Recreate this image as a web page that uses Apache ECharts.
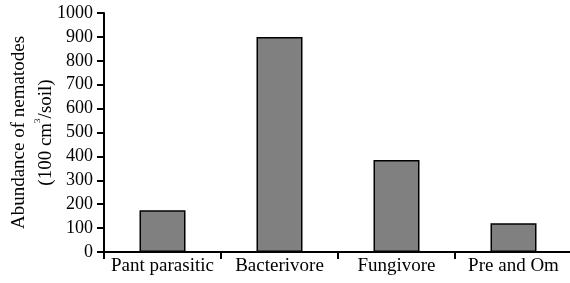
<!DOCTYPE html>
<html><head><meta charset="utf-8">
<script src="https://cdn.jsdelivr.net/npm/echarts@6/dist/echarts.min.js"></script>
<style>html,body{margin:0;padding:0;background:#fff}#c{width:570px;height:283px}</style>
</head><body><div id="c"></div>
<script>
const categories = ["Pant parasitic", "Bacterivore", "Fungivore", "Pre and Om"];
const values = [175, 900, 385, 120];
const yTicks = [0, 100, 200, 300, 400, 500, 600, 700, 800, 900, 1000];

const chart = echarts.init(document.getElementById('c'));
const font = '"Liberation Serif", "Times New Roman", serif';
chart.setOption({
  animation: false,
  grid: { left: 104, top: 13, bottom: 31, right: -2, containLabel: false, outerBoundsMode: 'none' },
  xAxis: {
    type: 'category', data: categories,
    axisLine: { lineStyle: { color: '#000', width: 2 } },
    axisTick: { show: true, length: 7, lineStyle: { color: '#000', width: 2 } },
    axisLabel: { color: '#000', fontFamily: font, fontSize: 19, margin: 5, interval: 0, hideOverlap: false }
  },
  yAxis: {
    type: 'value', min: yTicks[0], max: yTicks[yTicks.length - 1], interval: 100,
    axisLine: { show: true, lineStyle: { color: '#000', width: 2 } },
    axisTick: { show: true, length: 7, lineStyle: { color: '#000', width: 2 } },
    splitLine: { show: false },
    axisLabel: { color: '#000', fontFamily: font, fontSize: 18, margin: 11, formatter: v => String(v) },
    name: '{t|Abundance of nematodes}\n{t|(100 cm}{s|3}{t|/soil)}',
    nameLocation: 'middle', nameGap: 44, nameRotate: 90, nameMoveOverlap: false,
    nameTextStyle: { color: '#000', fontFamily: font, fontSize: 19, lineHeight: 27,
      rich: {
        t: { fontSize: 19, fontFamily: font, color: '#000', lineHeight: 27 },
        s: { fontSize: 9, fontFamily: font, color: '#000', verticalAlign: 'top', lineHeight: 27, padding: [0, 0, 10, 0] }
      } }
  },
  series: [{
    type: 'bar', data: values, barWidth: 46,
    itemStyle: { color: '#808080', borderColor: '#000', borderWidth: 1.5 }
  }]
});
</script></body></html>
